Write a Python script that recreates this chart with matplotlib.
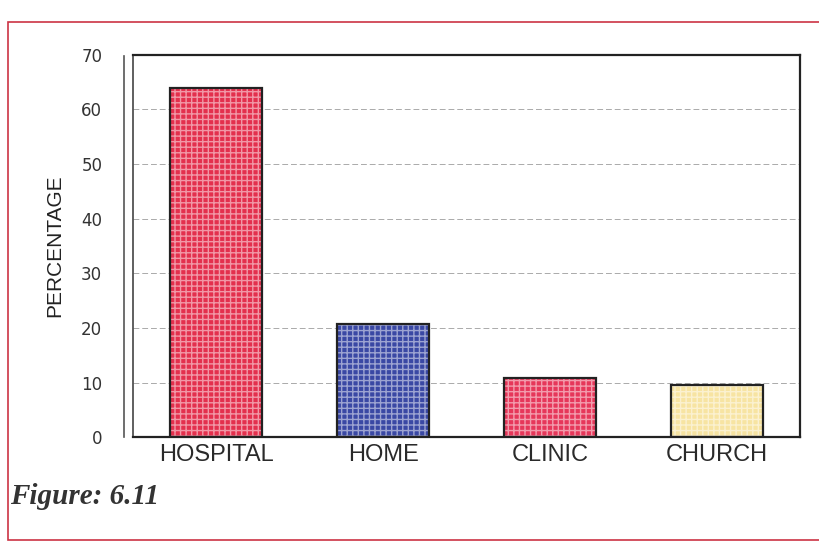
import matplotlib.pyplot as plt
from matplotlib.patches import Rectangle
from matplotlib.lines import Line2D

places = ['HOSPITAL', 'HOME', 'CLINIC', 'CHURCH']
percent = [64, 20.7, 10.9, 9.5]
bar_colors = ['#e3304d', '#3a48a4', '#e6375a', '#f7e4a2']
y_ticks = [0, 10, 20, 30, 40, 50, 60, 70]

fig = plt.figure(figsize=(8.2, 5.43), dpi=100)
ax = fig.add_axes([0.162, 0.195, 0.814, 0.704])

x = range(len(places))
# fill with a light grid texture, then a dark outline on top
ax.bar(x, percent, width=0.55, color=bar_colors, edgecolor='#ffffff80',
       hatch='+++', linewidth=0, zorder=2)
ax.bar(x, percent, width=0.55, fill=False, edgecolor='#222222',
       linewidth=1.6, zorder=3)

ax.set_xlim(-0.5, 3.5)
ax.set_ylim(0, 70)
ax.set_yticks(y_ticks)
ax.set_xticks(list(x))
ax.set_xticklabels(places, fontsize=17, family='Liberation Sans')
ax.tick_params(axis='y', labelsize=12, length=0, pad=22, colors='#333333')
ax.tick_params(axis='x', length=0, pad=5, colors='#2a2a2a')
ax.yaxis.grid(True, linestyle=(0, (6, 3)), color='#aaaaaa', linewidth=0.7)
ax.set_axisbelow(True)
ax.set_ylabel('PERCENTAGE', fontsize=15, color='#222222', labelpad=12,
              family='Liberation Sans')

for side in ['top', 'right', 'bottom']:
    ax.spines[side].set_color('#222222')
    ax.spines[side].set_linewidth(1.6)
ax.spines['left'].set_color('#444444')
ax.spines['left'].set_linewidth(1.2)

# second line on the left edge of the frame
fig.add_artist(Line2D([0.151, 0.151], [0.195, 0.897], color='#555555', lw=1.2))

# red page border
fig.add_artist(Rectangle((0.01, 0.006), 0.99, 0.953, transform=fig.transFigure,
                         fill=False, edgecolor='#cc3344', linewidth=1.2))

fig.text(0.012, 0.072, 'Figure: 6.11', fontsize=21, family='Liberation Serif',
         style='italic', weight='bold', color='#333333')

plt.savefig('out.png', dpi=100)
